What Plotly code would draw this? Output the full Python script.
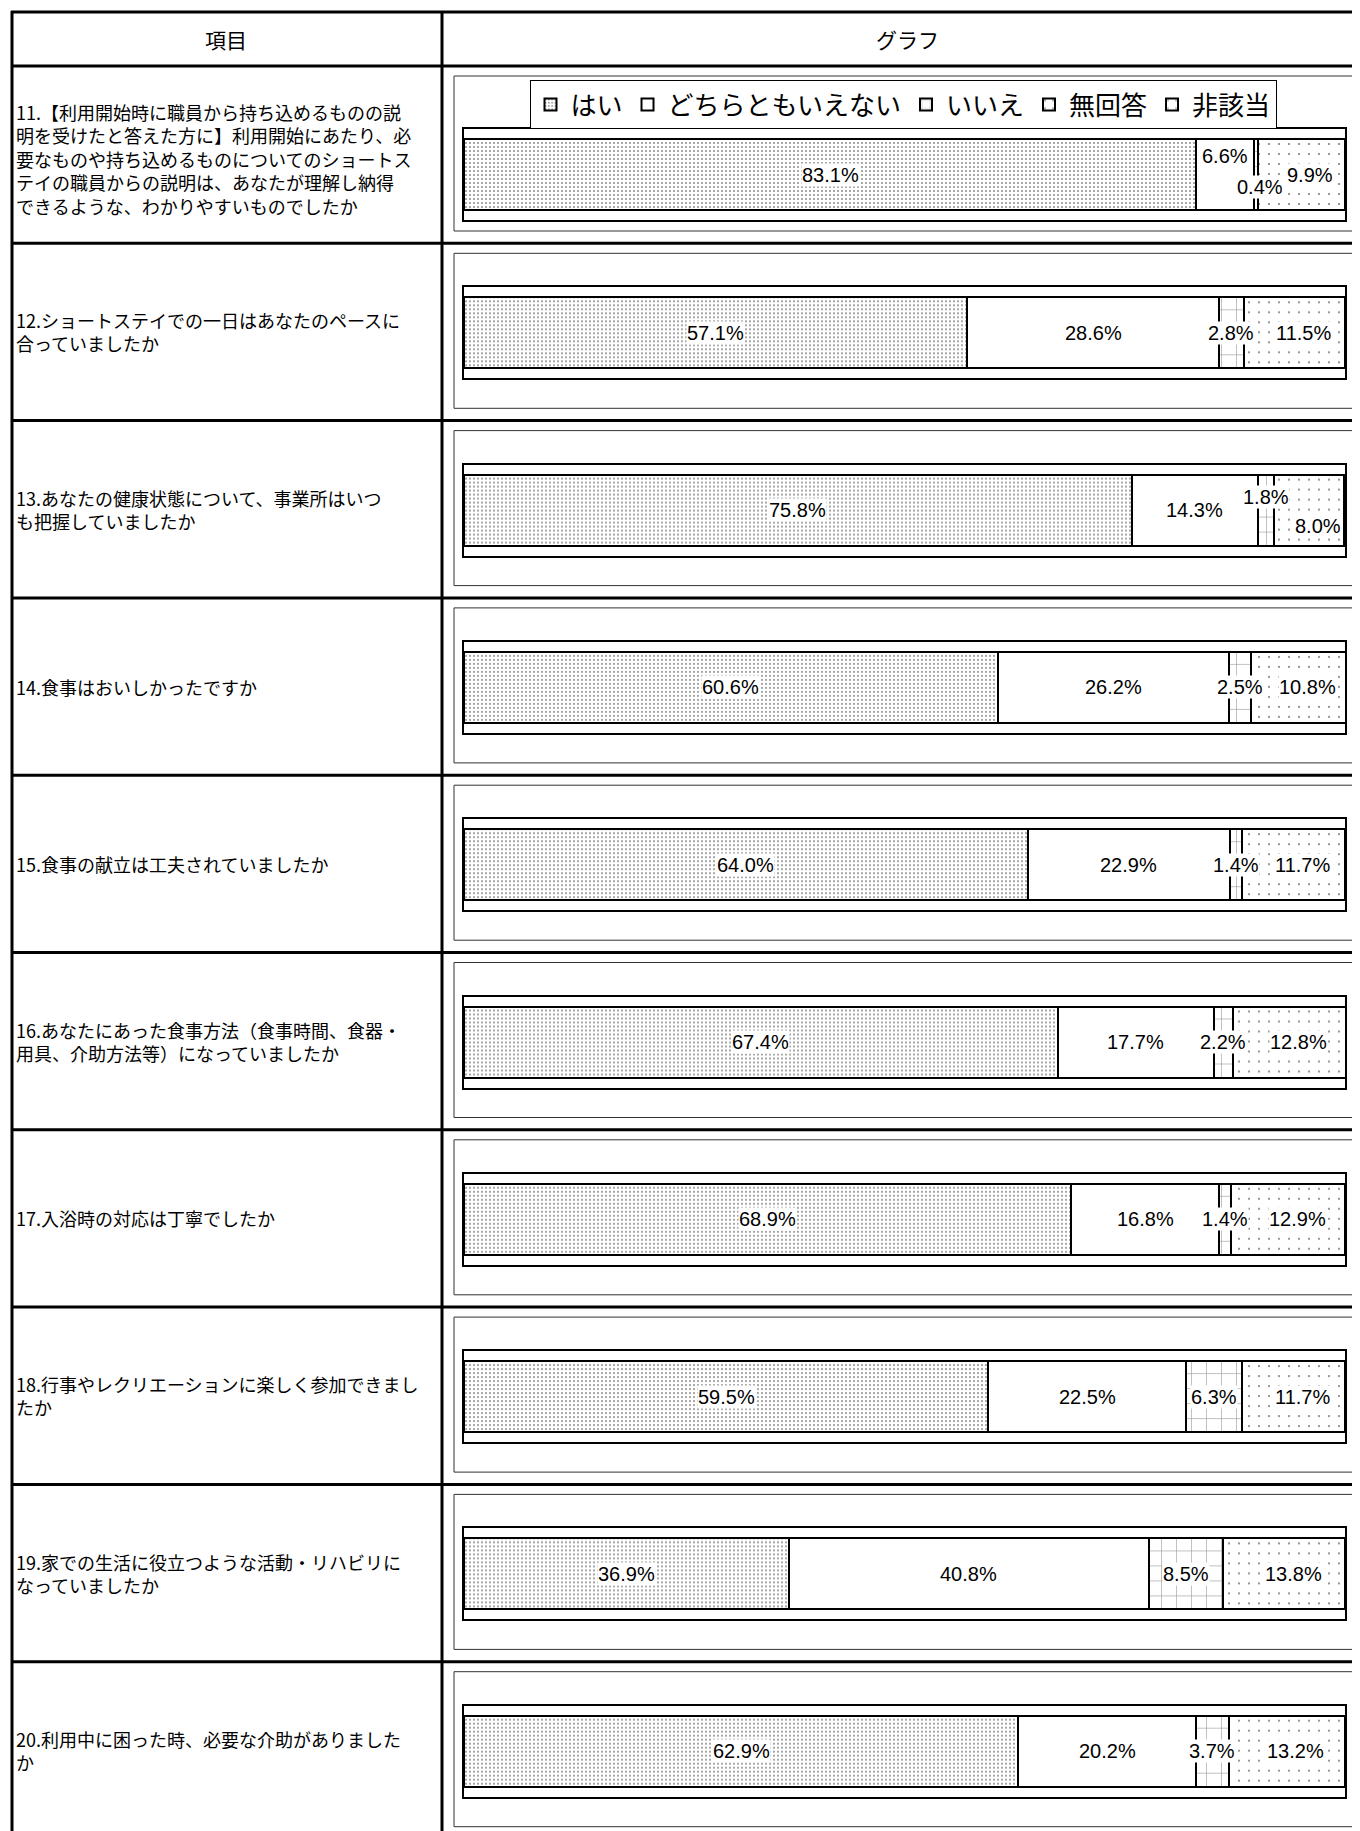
import plotly.graph_objects as go

# ---------------- data ----------------
categories = ["はい", "どちらともいえない", "いいえ", "無回答", "非該当"]
items = [
    "11.【利用開始時に職員から持ち込めるものの説<br>明を受けたと答えた方に】利用開始にあたり、必<br>要なものや持ち込めるものについてのショートス<br>テイの職員からの説明は、あなたが理解し納得<br>できるような、わかりやすいものでしたか",
    "12.ショートステイでの一日はあなたのペースに<br>合っていましたか",
    "13.あなたの健康状態について、事業所はいつ<br>も把握していましたか",
    "14.食事はおいしかったですか",
    "15.食事の献立は工夫されていましたか",
    "16.あなたにあった食事方法（食事時間、食器・<br>用具、介助方法等）になっていましたか",
    "17.入浴時の対応は丁寧でしたか",
    "18.行事やレクリエーションに楽しく参加できまし<br>たか",
    "19.家での生活に役立つような活動・リハビリに<br>なっていましたか",
    "20.利用中に困った時、必要な介助がありました<br>か",
]
item_keys = ["Q11", "Q12", "Q13", "Q14", "Q15", "Q16", "Q17", "Q18", "Q19", "Q20"]
yes = [83.1, 57.1, 75.8, 60.6, 64.0, 67.4, 68.9, 59.5, 36.9, 62.9]
neutral = [6.6, 28.6, 14.3, 26.2, 22.9, 17.7, 16.8, 22.5, 40.8, 20.2]
no = [0.4, 2.8, 1.8, 2.5, 1.4, 2.2, 1.4, 6.3, 8.5, 3.7]
no_answer = [0.0, 0.0, 0.0, 0.0, 0.0, 0.0, 0.0, 0.0, 0.0, 0.0]
not_applicable = [9.9, 11.5, 8.0, 10.8, 11.7, 12.8, 12.9, 11.7, 13.8, 13.2]
series = [yes, neutral, no, no_answer, not_applicable]
headers = ["項目", "グラフ"]

# ---------------- styles ----------------
patterns = [
    dict(shape=".", size=4, solidity=0.16, fgcolor="#000000", bgcolor="#ffffff", fillmode="overlay"),
    dict(shape="", bgcolor="#ffffff"),
    dict(shape="+", size=15, solidity=0.08, fgcolor="#333333", bgcolor="#ffffff", fillmode="overlay"),
    dict(shape=".", size=12, solidity=0.04, fgcolor="#000000", bgcolor="#ffffff", fillmode="overlay"),
    dict(shape=".", size=10, solidity=0.035, fgcolor="#000000", bgcolor="#ffffff", fillmode="overlay"),
]
# label nudges (row, series) -> (xshift, yshift)
label_shift = {(0, 1): (0, 19), (0, 2): (4, -12), (2, 2): (0, 13), (2, 4): (0, -16)}
last_xshift = 9

W, H = 1360, 1831
OFF = 8  # page body margin
def px(x):
    return (x - OFF) / W
def py(y):
    return 1 - (y - OFF) / H

ROW0 = 66
PITCH = 177.3
N = len(items)
JP = "Noto Sans CJK JP, Noto Sans, sans-serif"
NUM = "Liberation Sans Narrow, Arial Narrow, Liberation Sans, Arial, sans-serif"

fig = go.Figure()
layout_axes = {}
annotations = []
shapes = []

for r in range(N):
    n = r + 1
    xs = "x" if n == 1 else f"x{n}"
    ys = "y" if n == 1 else f"y{n}"
    top = ROW0 + r * PITCH
    ft, fb = (top + 63, top + 154) if r == 0 else (top + 44, top + 135)
    for k, cat in enumerate(categories):
        fig.add_trace(go.Bar(
            x=[series[k][r]], y=[item_keys[r]], orientation="h", name=cat,
            xaxis=xs, yaxis=ys, width=0.78,
            marker=dict(color="#ffffff", pattern=patterns[k],
                        line=dict(color="#000000", width=2)),
            showlegend=(r == 0), legendgroup=cat, hoverinfo="skip",
        ))
    axcommon = dict(showline=True, mirror=True, linecolor="#000000", linewidth=2,
                    showgrid=False, zeroline=False, showticklabels=False,
                    ticks="", fixedrange=True)
    layout_axes["xaxis" if n == 1 else f"xaxis{n}"] = dict(
        domain=[px(464), px(1345)], range=[0, 100], anchor=ys, **axcommon)
    layout_axes["yaxis" if n == 1 else f"yaxis{n}"] = dict(
        domain=[py(fb), py(ft)], range=[-0.5, 0.5], type="category",
        anchor=xs, **axcommon)

    # value labels
    cum = 0.0
    for k in range(len(categories)):
        v = series[k][r]
        if v > 0:
            xsft, ysft = label_shift.get((r, k), (0, 0))
            if k == len(categories) - 1:
                xsft += last_xshift
            annotations.append(dict(
                x=cum + v / 2, y=item_keys[r], xref=xs, yref=ys,
                text=f"{v:.1f}%", showarrow=False, xshift=xsft, yshift=ysft,
                font=dict(family=NUM, size=20, color="#000000"),
                bgcolor="#ffffff", borderpad=0))
        cum += v

    # item text
    center = top + PITCH / 2 + (4 if r == 0 else 0)
    annotations.append(dict(
        x=px(14), y=py(center), xref="paper", yref="paper",
        xanchor="left", yanchor="middle", align="left", text=items[r], showarrow=False,
        font=dict(family=JP, size=18, color="#000000")))

    # chart box
    shapes.append(dict(type="rect", xref="paper", yref="paper",
                       x0=px(454), x1=px(1355), y0=py(top + 165), y1=py(top + 10),
                       line=dict(color="#333333", width=1)))
    # row divider
    shapes.append(dict(type="line", xref="paper", yref="paper",
                       x0=px(11), x1=px(1370), y0=py(top + PITCH), y1=py(top + PITCH),
                       line=dict(color="#000000", width=3)))

# table frame
for yy in (12, ROW0):
    shapes.append(dict(type="line", xref="paper", yref="paper",
                       x0=px(11), x1=px(1370), y0=py(yy), y1=py(yy),
                       line=dict(color="#000000", width=3)))
for xx in (12, 442):
    shapes.append(dict(type="line", xref="paper", yref="paper",
                       x0=px(xx), x1=px(xx), y0=py(11), y1=py(1840),
                       line=dict(color="#000000", width=3)))

for hx, htxt in zip((226, 907), headers):
    annotations.append(dict(x=px(hx), y=py(39), xref="paper", yref="paper", text=htxt,
                            xanchor="center", yanchor="middle", showarrow=False,
                            font=dict(family=JP, size=21, color="#000000")))

fig.update_layout(
    width=W, height=H, margin=dict(l=0, r=0, t=0, b=0),
    paper_bgcolor="#ffffff", plot_bgcolor="#ffffff",
    barmode="stack", bargap=0,
    showlegend=True,
    legend=dict(orientation="h", x=px(903), y=py(129), xanchor="center", yanchor="bottom",
                bgcolor="#ffffff", bordercolor="#000000", borderwidth=1,
                font=dict(family=JP, size=26, color="#000000"),
                itemwidth=30, traceorder="normal", itemclick=False, itemdoubleclick=False),
    annotations=annotations, shapes=shapes,
    **layout_axes,
)

fig.write_html("out.html")
